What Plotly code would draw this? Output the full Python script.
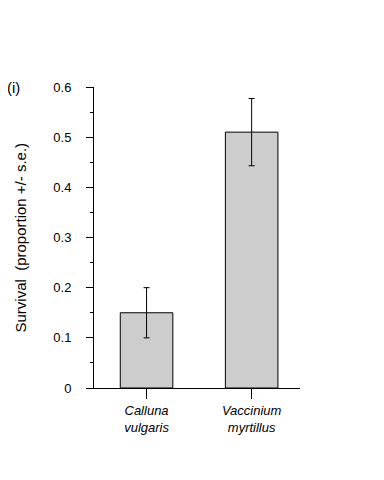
import plotly.graph_objects as go

categories = ["<i>Calluna</i><br><i>vulgaris</i>", "<i>Vaccinium</i><br><i>myrtillus</i>"]
survival = [0.15, 0.51]
se = [0.05, 0.067]
y_ticks = [0, 0.1, 0.2, 0.3, 0.4, 0.5, 0.6]
y_tick_labels = ["0", "0.1", "0.2", "0.3", "0.4", "0.5", "0.6"]

FONT = "Liberation Sans, Arial, sans-serif"

fig = go.Figure()
fig.add_trace(go.Bar(
    x=[0, 1],
    y=survival,
    width=0.5,
    marker=dict(
        color="white",
        line=dict(color="black", width=1),
        pattern=dict(shape=".", fgcolor="#1a1a1a", bgcolor="white", size=2, solidity=0.5),
    ),
    error_y=dict(type="data", array=se, visible=True, color="black", thickness=1, width=3),
    showlegend=False,
))

fig.update_layout(
    width=384, height=480,
    margin=dict(l=86, r=92, t=79, b=100),
    paper_bgcolor="white", plot_bgcolor="white",
    font=dict(family=FONT, size=12, color="black"),
    bargap=0.5,
)
fig.update_xaxes(
    range=[-0.5, 1.46],
    tickmode="array", tickvals=[0, 1], ticktext=categories,
    ticks="outside", ticklen=10, tickwidth=1, tickcolor="black",
    showline=True, linecolor="black", linewidth=1,
    showgrid=False, zeroline=False,
    tickfont=dict(size=13),
    fixedrange=True,
)
fig.update_yaxes(
    range=[0, 0.6],
    tickmode="array", tickvals=y_ticks, ticktext=y_tick_labels,
    ticks="outside", ticklen=7, tickwidth=1, tickcolor="black",
    minor=dict(dtick=0.05, ticks="outside", ticklen=3, tickcolor="black", tickwidth=1, showgrid=False),
    showline=True, linecolor="black", linewidth=1,
    showgrid=False, zeroline=False,
    tickfont=dict(size=13),
    ticklabelstandoff=12,
)
fig.add_annotation(
    text="Survival  (proportion +/- s.e.)", textangle=-90,
    xref="paper", yref="paper", x=-0.359, y=0.5, xanchor="center", yanchor="middle",
    showarrow=False, font=dict(size=15),
)
fig.add_annotation(
    text="(i)", xref="paper", yref="paper", x=-0.39, y=1.0,
    xanchor="center", yanchor="middle", showarrow=False, font=dict(size=15),
)
fig.write_html("out.html")
